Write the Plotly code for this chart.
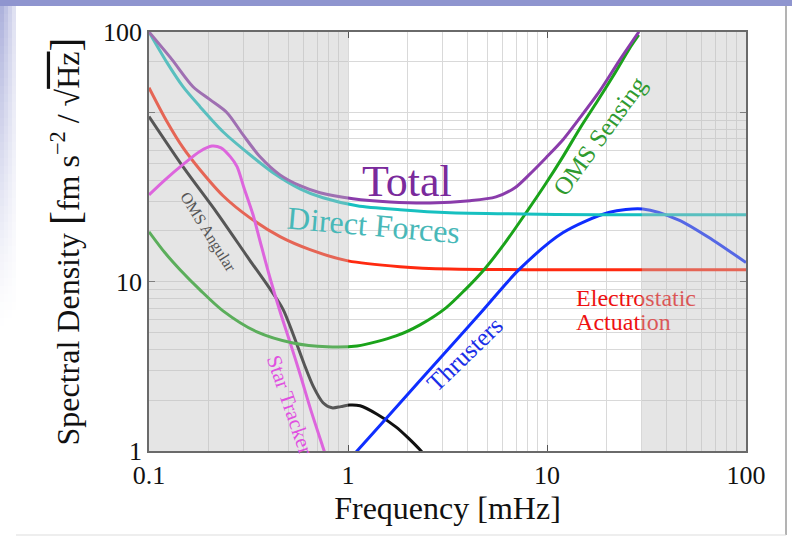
import numpy as np
import plotly.graph_objects as go

# ---------------- data ----------------
total_f = [0.1, 0.1305, 0.1664, 0.2026, 0.2466, 0.2966, 0.3613, 0.4553, 0.574, 0.7233, 1.059, 1.626, 2.584, 4.102, 5.542, 6.9, 8.12, 9.89, 12.03, 14.65, 18.46, 23.27, 28.98]
total_v = [300, 206, 142.5, 119.4, 100, 74.1, 54.9, 42.9, 37.0, 33.6, 31.0, 29.7, 29.3, 30.2, 31.8, 36.0, 42.9, 54.2, 69.2, 93.4, 135, 206, 301]

direct_f = [0.1, 0.1232, 0.1482, 0.1804, 0.2354, 0.3218, 0.42, 0.574, 0.7485, 1.11, 1.825, 3.25, 5.79, 18.4, 100.0]
direct_v = [300, 197.6, 142.5, 108.6, 77.2, 56.4, 44.2, 35.5, 31.4, 28.2, 26.7, 25.6, 25.3, 24.9, 24.9]

electro_f = [0.1, 0.1232, 0.1482, 0.1804, 0.2354, 0.3218, 0.4553, 0.6443, 1.0, 1.825, 3.25, 10.35, 100.0]
electro_v = [140.6, 88.4, 62.1, 46.0, 32.3, 23.9, 18.5, 15.5, 13.3, 12.3, 11.9, 11.8, 11.8]

angular_f = [0.1, 0.15, 0.22, 0.32, 0.4, 0.471, 0.53, 0.6, 0.67, 0.749, 0.831, 0.92, 1.02, 1.15, 1.4, 1.74, 2.0, 2.33, 2.45]
angular_v = [95, 47, 25.5, 13.5, 9.3, 6.9, 4.9, 3.3, 2.4, 1.93, 1.80, 1.83, 1.87, 1.85, 1.65, 1.39, 1.2, 1.0, 0.93]

star_f = [0.1, 0.12, 0.15, 0.18, 0.207, 0.23, 0.256, 0.277, 0.3, 0.333, 0.361, 0.406, 0.455, 0.511, 0.574, 0.65, 0.749, 0.8]
star_v = [32.7, 40, 50, 59, 63.5, 62, 55, 48, 36, 25, 17.5, 10.5, 6.7, 4.4, 2.85, 1.75, 1.05, 0.83]

sensing_f = [0.1, 0.1203, 0.1432, 0.1804, 0.2354, 0.3488, 0.5293, 0.7843, 1.11, 1.743, 2.301, 3.108, 3.873, 4.825, 6.151, 7.845, 9.772, 12.03, 14.65, 18.0, 21.97, 26.0, 28.9]
sensing_v = [19.77, 14.85, 11.8, 8.97, 6.74, 5.06, 4.35, 4.13, 4.18, 4.79, 5.57, 7.02, 8.97, 11.8, 17.0, 25.6, 37.5, 55, 81, 118, 172, 240, 288]

thruster_f = [1.0, 1.11, 1.825, 2.9, 4.61, 7.23, 12.0, 20.4, 30.3, 46.0, 68.0, 100.0]
thruster_v = [0.87, 1.0, 1.92, 3.54, 6.5, 11.8, 19.5, 25.7, 27.0, 23.2, 17.7, 13.0]

x_tick_vals = [0.1, 1, 10, 100]
x_tick_text = ["0.1", "1", "10", "100"]
y_tick_vals = [1, 10, 100, 300]
y_tick_text = ["1", "10", "", "100"]
x_minor = [m * d for d in (0.1, 1, 10) for m in range(2, 10)]
y_minor = [m * d for d in (1, 10) for m in range(2, 10)] + [200]

shade_bands = [(0.1, 1.0), (30.0, 100.0)]

# ---------------- styling ----------------
FONT = "Liberation Serif"
series = [
    ("Electrostatic Actuation", electro_f, electro_v, "#ff2a10"),
    ("OMS Angular", angular_f, angular_v, "#111111"),
    ("Star Tracker", star_f, star_v, "#f22af2"),
    ("OMS Sensing", sensing_f, sensing_v, "#1aa31a"),
    ("Thrusters", thruster_f, thruster_v, "#0f2eff"),
    ("Direct Forces", direct_f, direct_v, "#17c0c0"),
    ("Total", total_f, total_v, "#8a3cab"),
]

fig = go.Figure()
for name, f, v, c in series:
    fig.add_trace(go.Scatter(x=f, y=v, mode="lines", name=name,
                             line=dict(color=c, width=3, shape="spline", smoothing=0.8),
                             showlegend=False, hoverinfo="skip"))

# Horizontal label drawn as trace text so that the shaded band tints it
fig.add_trace(go.Scatter(x=[14.0, 14.0], y=[7.82, 5.65], mode="text",
                         text=["Electrostatic", "Actuation"], textposition="middle right",
                         textfont=dict(family=FONT, size=24, color="#ee1111"),
                         showlegend=False, hoverinfo="skip"))

L, R, T, B = 149, 46, 32, 89
W, H = 792, 540
pw, ph = W - L - R, H - T - B


def px(x):
    return (x - L) / pw


def py(y):
    return (H - B - y) / ph


shapes = []
# slide decoration
shapes.append(dict(type="rect", xref="paper", yref="paper", x0=px(0), x1=px(W), y0=py(6), y1=py(0),
                   fillcolor="#8f95cf", line=dict(width=0), layer="below"))
NB = 40
for i in range(NB):
    y0 = 6 + i * 8
    op = 0.72 * (1 - i / NB) ** 1.3
    for j in range(4):
        a, b = j * 4, j * 4 + 4
        shapes.append(dict(type="rect", xref="paper", yref="paper", x0=px(a), x1=px(b), y0=py(y0 + 8), y1=py(y0),
                           fillcolor="#8f95cf", opacity=op * (1 - 0.2 * j), line=dict(width=0), layer="below"))
shapes.append(dict(type="line", xref="paper", yref="paper", x0=px(786), x1=px(786), y0=py(535), y1=py(6),
                   line=dict(color="#9a9a9a", width=1.5), layer="below"))
shapes.append(dict(type="line", xref="paper", yref="paper", x0=px(16), x1=px(786), y0=py(535), y1=py(535),
                   line=dict(color="#dddddd", width=1), layer="below"))
# shaded bands (overlay)
for a, b in shade_bands:
    shapes.append(dict(type="rect", xref="paper", yref="paper",
                       x0=(np.log10(a) + 1) / 3, x1=(np.log10(b) + 1) / 3, y0=0, y1=1,
                       fillcolor="rgb(190,190,190)", opacity=0.4, line=dict(width=0), layer="above"))

annos = [
    dict(text="Total", x=1.98, y=39, size=44, color="#7a2a9c", angle=0),
    dict(text="Direct Forces", x=1.34, y=21.7, size=32, color="#48b8b8", angle=5),
    dict(text="OMS Angular", x=0.198, y=19.8, size=16, color="#555555", angle=58),
    dict(text="Star Tracker", x=0.511, y=1.87, size=21, color="#e050e0", angle=71),
    dict(text="OMS Sensing", x=18.5, y=73, size=25, color="#2f9a2f", angle=-54),
    dict(text="Thrusters", x=3.85, y=3.7, size=25, color="#1a2ee8", angle=-44),
]
annotations = []
for a in annos:
    annotations.append(dict(text=a["text"], x=np.log10(a["x"]), y=np.log10(a["y"]), xref="x", yref="y",
                            showarrow=False, textangle=a["angle"],
                            font=dict(family=FONT, size=a["size"], color=a["color"])))

axis_common = dict(type="log", showline=True, linecolor="#6a6a6a", linewidth=1.5, mirror="ticks",
                   ticks="inside", ticklen=6, tickcolor="#555555", tickwidth=1,
                   showgrid=True, gridcolor="#d9d9d9", gridwidth=1, zeroline=False,
                   tickfont=dict(family=FONT, size=26, color="#111111"))

ytitle = ("Spectral Density <span style='font-size:42px'>[</span>fm s<sup>−2</sup> / "
          "√<span style='text-decoration:overline'>Hz</span><span style='font-size:42px'>]</span>")

fig.update_layout(
    width=W, height=H, margin=dict(l=L, r=R, t=T, b=B),
    paper_bgcolor="white", plot_bgcolor="white",
    shapes=shapes, annotations=annotations,
    xaxis=dict(**axis_common, range=[-1, 2], tickmode="array", tickvals=x_tick_vals, ticktext=x_tick_text,
               minor=dict(tickmode="array", tickvals=x_minor, showgrid=True, gridcolor="#d9d9d9", ticks=""),
               title=dict(text="Frequency [mHz]", font=dict(family=FONT, size=32, color="#111111"), standoff=6)),
    yaxis=dict(**axis_common, range=[0, np.log10(300)], tickmode="array", tickvals=y_tick_vals, ticktext=y_tick_text,
               minor=dict(tickmode="array", tickvals=y_minor, showgrid=True, gridcolor="#d9d9d9", ticks=""),
               title=dict(text=ytitle, font=dict(family=FONT, size=32, color="#111111"), standoff=14)),
)

fig.write_html("out.html", config={"displayModeBar": False},
               post_script="document.body.style.margin='0px';")
